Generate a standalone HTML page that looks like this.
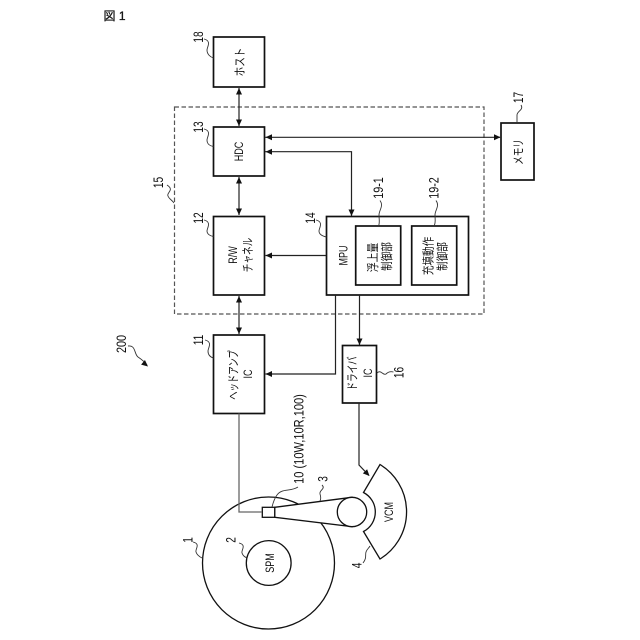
<!DOCTYPE html>
<html><head><meta charset="utf-8">
<style>
html,body{margin:0;padding:0;background:#fff;}
svg{display:block;}
text{font-family:"Liberation Sans","Noto Sans CJK JP",sans-serif;fill:#111;text-anchor:middle;}
.b{fill:#fff;stroke:#111;stroke-width:1.7;}
.l{fill:none;stroke:#222;stroke-width:1.2;}
.g{fill:none;stroke:#666;stroke-width:1.3;}
.q{fill:none;stroke:#333;stroke-width:.9;}
.a{fill:#111;stroke:none;}
</style></head><body>
<svg width="640" height="640" viewBox="0 0 640 640" xmlns="http://www.w3.org/2000/svg">
<defs>
<polygon id="ar" class="a" points="0,0 -6.5,-3 -6.5,3"/>
</defs>
<text x="114.5" y="20" font-size="12" stroke="#111" stroke-width=".3">図 1</text>

<rect x="174.5" y="107" width="309.5" height="207" fill="none" stroke="#555" stroke-width="1.2" stroke-dasharray="4.5 2.5"/>

<!-- disk -->
<circle cx="268.5" cy="563" r="66" fill="#fff" stroke="#111" stroke-width="1.3"/>
<circle cx="268.7" cy="563" r="22.4" fill="#fff" stroke="#111" stroke-width="1.3"/>

<!-- VCM -->
<path d="M380,464.5 A55.3,55.3 0 0 1 380,559 L363.5,531.5 A22,22 0 0 0 363.5,492.5 Z" fill="#fff" stroke="#111" stroke-width="1.3"/>

<!-- arm -->
<path d="M274.7,507.3 L352,497.3 L352,526.7 L274.7,517.3 Z" fill="#fff" stroke="#111" stroke-width="1.3"/>
<circle cx="352" cy="512" r="14.7" fill="#fff" stroke="#111" stroke-width="1.3"/>
<rect x="262.3" y="507.3" width="12.4" height="10" fill="#fff" stroke="#111" stroke-width="1.3"/>

<!-- boxes -->
<rect class="b" x="213.5" y="37" width="51" height="50"/>
<rect class="b" x="213.5" y="127" width="51" height="49"/>
<rect class="b" x="213.5" y="216.5" width="51" height="78.5"/>
<rect class="b" x="213.5" y="335" width="51" height="78.5"/>
<rect class="b" x="326.5" y="216.5" width="142" height="78.5"/>
<rect class="b" x="355.7" y="226" width="45" height="59"/>
<rect class="b" x="411.7" y="226" width="45" height="59"/>
<rect class="b" x="501" y="123" width="33" height="57"/>
<rect class="b" x="342.5" y="345.5" width="34" height="57.5"/>

<!-- connectors -->
<path class="l" d="M239,88V126"/><use href="#ar" transform="translate(239,88) rotate(-90)"/><use href="#ar" transform="translate(239,126) rotate(90)"/>
<path class="l" d="M239,177V215"/><use href="#ar" transform="translate(239,177) rotate(-90)"/><use href="#ar" transform="translate(239,215) rotate(90)"/>
<path class="l" d="M239,296V334"/><use href="#ar" transform="translate(239,296) rotate(-90)"/><use href="#ar" transform="translate(239,334) rotate(90)"/>
<path class="l" d="M265,137.3H500"/><use href="#ar" transform="translate(265.5,137.3) rotate(180)"/><use href="#ar" transform="translate(500.5,137.3)"/>
<path class="l" d="M265,151.7H351.5V216"/><use href="#ar" transform="translate(265.5,151.7) rotate(180)"/><use href="#ar" transform="translate(351.5,216) rotate(90)"/>
<path class="l" d="M326,255.5H265.5"/><use href="#ar" transform="translate(265.5,255.5) rotate(180)"/>
<path class="l" d="M335.5,295V374H265.5"/><use href="#ar" transform="translate(265.5,374) rotate(180)"/>
<path class="l" d="M359.5,295V345"/><use href="#ar" transform="translate(359.5,345) rotate(90)"/>
<path class="g" d="M239,413.5V512H262"/>
<path class="l" d="M359,403V465L369,475.5"/><use href="#ar" transform="translate(369.5,476) rotate(46)"/>

<!-- leaders -->
<path class="q" d="M204,39C212,41 207,47 207,50C207,54 210,57 213.5,58"/>
<path class="q" d="M204,129C212,131 207,137 207,140C207,144 210,146 213.5,146.5"/>
<path class="q" d="M204,220C212,222 207,228 207,231C207,234 210,236 213.5,236.5"/>
<path class="q" d="M205,340C213,342 208,348 208,351C208,355 210,357 213.5,358"/>
<path class="q" d="M316,220C324,222 319,228 319,231C319,234 322,236 326.5,237"/>
<path class="q" d="M167,185C175,190 166,193 168,196C169,199 172,200 174,203"/>
<path class="q" d="M380,200.5C384,206 379,210 379,215C379,219 380,223 378.5,226"/>
<path class="q" d="M436,200.5C440,206 435,210 435,215C435,219 436,223 434,226"/>
<path class="q" d="M521,105C524,110 517,111 517,115C517,118 517,121 517,123"/>
<path class="q" d="M377,373C381,369 383,376 386,374C388,372 390,371 393.5,372"/>
<path class="q" d="M298,487C290,492 282,488 277,495C274,499 273,503 272,507"/>
<path class="q" d="M322,485C326,489 319,490 320,494C321,497 321,499 320,501"/>
<path class="q" d="M239,543C247,545 241,550 242,553C243,556 245,557 247,558"/>
<path class="q" d="M193,542C201,544 195,549 196,552C197,555 200,557 202,558"/>
<path class="q" d="M363,563C367,558 365,555 366,552C367,549 369,548 370,546"/>
<path class="q" d="M128,346C136,345 134,354 138,357C141,359 144,361 147,365"/>
<use href="#ar" transform="translate(148,366.5) rotate(40)"/>

<!-- rotated labels -->
<g font-size="12">
<text transform="translate(244,62) rotate(-90) scale(.8,1)">ホスト</text>
<text transform="translate(243,151.5) rotate(-90) scale(.75,1)">HDC</text>
<text transform="translate(237,255) rotate(-90) scale(.75,1)">R/W</text>
<text transform="translate(252,255) rotate(-90) scale(.72,1)">チャネル</text>
<text transform="translate(237.5,375) rotate(-90) scale(.7,1)">ヘッドアンプ</text>
<text transform="translate(252,374) rotate(-90) scale(.75,1)">IC</text>
<text transform="translate(347.5,255.5) rotate(-90) scale(.75,1)">MPU</text>
<text transform="translate(377,257.5) rotate(-90) scale(.82,1)">浮上量</text>
<text transform="translate(391,256.5) rotate(-90) scale(.8,1)">制御部</text>
<text transform="translate(432.5,256) rotate(-90) scale(.8,1)">充填動作</text>
<text transform="translate(446.5,256.5) rotate(-90) scale(.8,1)">制御部</text>
<text transform="translate(522.5,152) rotate(-90) scale(.72,1)">メモリ</text>
<text transform="translate(356.5,373.5) rotate(-90) scale(.72,1)">ドライバ</text>
<text transform="translate(372,373) rotate(-90) scale(.75,1)">IC</text>
<text transform="translate(393,512) rotate(-90) scale(.75,1)">VCM</text>
<text transform="translate(274,563) rotate(-90) scale(.75,1)">SPM</text>
</g>
<g font-size="13.5">
<text transform="translate(203,37) rotate(-90) scale(.75,1)">18</text>
<text transform="translate(203,127) rotate(-90) scale(.75,1)">13</text>
<text transform="translate(203,218) rotate(-90) scale(.75,1)">12</text>
<text transform="translate(203,340) rotate(-90) scale(.75,1)">11</text>
<text transform="translate(315,218) rotate(-90) scale(.75,1)">14</text>
<text transform="translate(163,182.5) rotate(-90) scale(.75,1)">15</text>
<text transform="translate(383,188) rotate(-90) scale(.8,1)">19-1</text>
<text transform="translate(438.5,188) rotate(-90) scale(.8,1)">19-2</text>
<text transform="translate(523,97.5) rotate(-90) scale(.75,1)">17</text>
<text transform="translate(403.5,372.5) rotate(-90) scale(.75,1)">16</text>
<text transform="translate(303.5,439) rotate(-90) scale(.82,1)">10 (10W,10R,100)</text>
<text transform="translate(327.5,479) rotate(-90) scale(.75,1)">3</text>
<text transform="translate(235.5,540) rotate(-90) scale(.75,1)">2</text>
<text transform="translate(192.5,540) rotate(-90) scale(.75,1)">1</text>
<text transform="translate(361.5,565.5) rotate(-90) scale(.75,1)">4</text>
<text transform="translate(126,344) rotate(-90) scale(.8,1)">200</text>
</g>
</svg>
</body></html>
